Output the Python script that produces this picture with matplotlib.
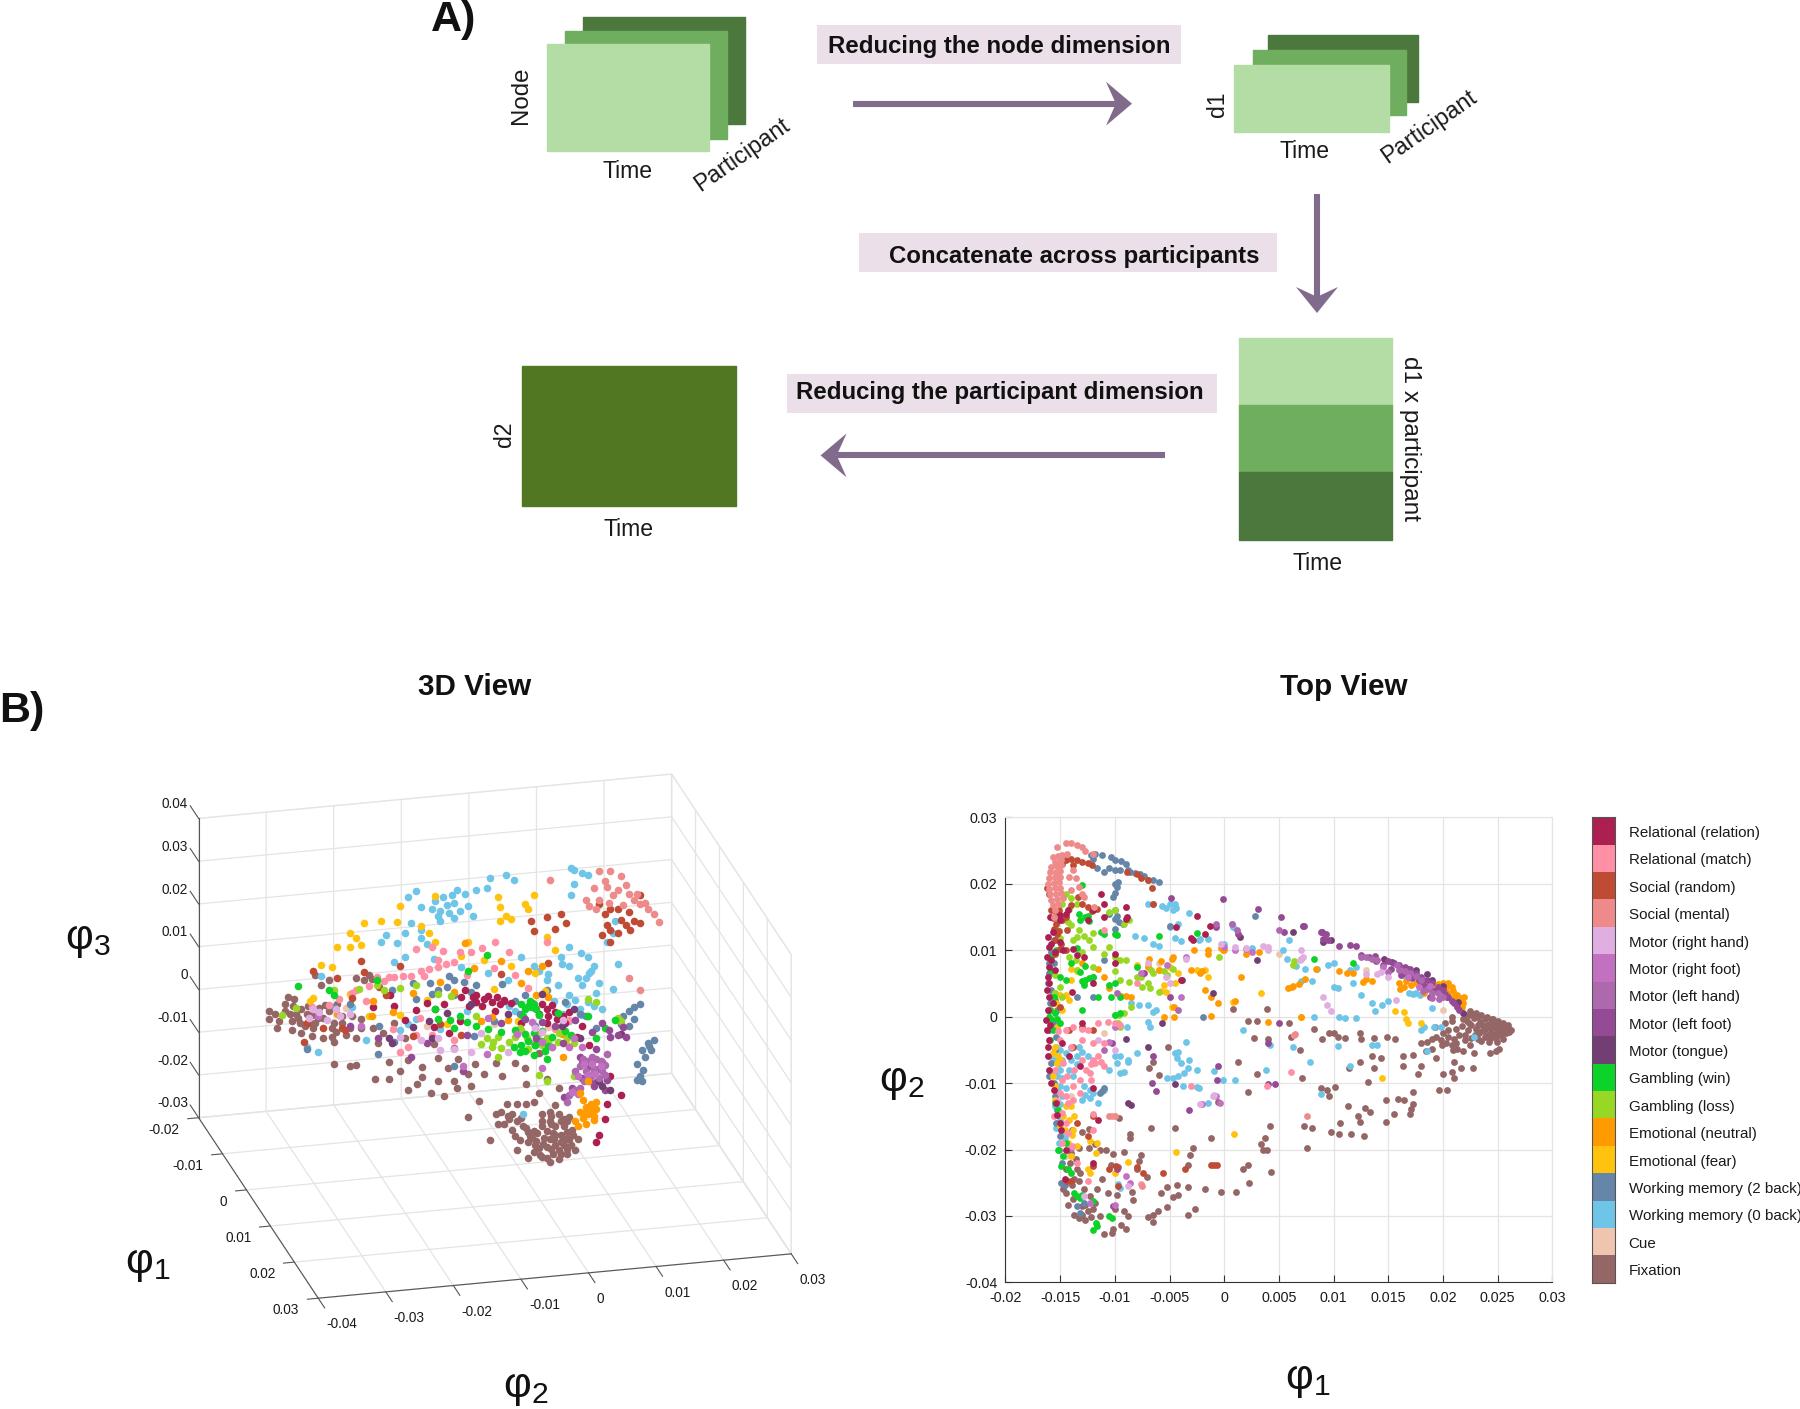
import numpy as np
import matplotlib
matplotlib.use('Agg')
import matplotlib.pyplot as plt
from matplotlib.colors import ListedColormap
from matplotlib.patches import Rectangle, Polygon
from mpl_toolkits.mplot3d import proj3d

plt.rcParams['font.family'] = ['Liberation Sans', 'DejaVu Sans']
plt.rcParams['mathtext.fontset'] = 'dejavusans'
plt.rcParams['mathtext.default'] = 'regular'

W, H = 1800, 1409
UNIT = 1e-3  # all point lists below are in units of 10^-3

categories = ['Relational (relation)', 'Relational (match)', 'Social (random)', 'Social (mental)',
              'Motor (right hand)', 'Motor (right foot)', 'Motor (left hand)', 'Motor (left foot)',
              'Motor (tongue)', 'Gambling (win)', 'Gambling (loss)', 'Emotional (neutral)',
              'Emotional (fear)', 'Working memory (2 back)', 'Working memory (0 back)', 'Cue', 'Fixation']
colors = ['#AB2050', '#FF8FA5', '#BF4B34', '#EF8A8A', '#E0AEE0', '#C270C2', '#AE68AE', '#944A94',
          '#733E73', '#0CD22A', '#98D825', '#FF9A00', '#FFC20E', '#6586A8', '#6FC5E8', '#EFC5B0', '#956666']
draw_order = ['Fixation', 'Cue', 'Working memory (0 back)', 'Working memory (2 back)', 'Emotional (fear)',
              'Emotional (neutral)', 'Gambling (loss)', 'Gambling (win)', 'Motor (tongue)', 'Motor (left foot)',
              'Motor (left hand)', 'Motor (right foot)', 'Motor (right hand)', 'Social (random)',
              'Relational (match)', 'Relational (relation)', 'Social (mental)']

# ---------- Top view: (phi1, phi2) ----------
top_fixation = [(22.5,.8),(23,.5),(23.5,.2),(24,0),(24.5,-.3),(25,-.6),(25.5,-1),(26,-1.8),(26.2,-2),(25.8,-2.5),(25.3,-2.8),(24.8,-3.2),(24.3,-3.4),(23.8,-3),(23.3,-2.5),(23,-1.8),(22.6,-1.2),(22.2,-.6),(22.8,-.2),(23.4,-.8),(24,-1.2),(24.6,-1.6),(25.2,-1.8),(24.4,-2.4),(23.8,-1.9),(23.2,-1.2),(24.8,-.9),(22.4,.2),(21.8,-.3),(25.6,-1.4),(25,-2.3),(24,-2.8),(23.5,-3.6),(24.9,-3.8),(25.5,-3.3),
 (22,.2),(22.6,.4),(23.2,-.1),(23.8,-.4),(24.4,-.8),(25,-1.2),(25.6,-1.9),(25.9,-1.2),(24.2,-1.7),(24.9,-2),(23.6,-2.2),(22.9,-2.8),(22.3,-2),(21.7,-1.4),(21.2,-1.9),(22,-2.7),(22.6,-3.2),(23.2,-3.3),(24.2,-3.8),(25,-2.8),(25.5,-2.4),(21.2,-3.9),(20.5,-2),(19.9,-4.2),(20.9,-5),(22.4,-.9),(23.6,-1.2),(24.6,-2.6),(26,-2.3),(24.6,-.4),
 (20,-2.5),(20.5,-3),(21,-3.4),(21.5,-2.8),(22,-3.5),(20.8,-4.3),(21.3,-4.8),(20.3,-4),(19.8,-3.5),(19.4,-3),(22.5,-4.2),(22.8,-5.4),(24.3,-5.5),(24.8,-5.2),(25.1,-4.8),(21.8,-5.2),(19.3,-1.5),(20.2,-1),(20.8,-.6),(19,-4.8),(18.5,-3.8),(20.8,0),
 (19,-3.3),(18,-3.9),(18.4,-5.1),(17.3,-5.7),(16.3,-6),(18,-7.5),(17.7,-8.7),(16.3,-7.5),(19.4,-6.3),(21,-6.9),(21.6,-7.8),(22.7,-7.8),(20.8,-8.4),(21,-9.3),(20,-8.7),(19.6,-11),(20.4,-11),(17.3,-11.3),(16.4,-12.5),(15.9,-12.4),(17.3,-13.1),(17.1,-13.9),(17,-14.6),(15.5,-14.7),(14.8,-12.5),(14.8,-15.8),(13.3,-14.3),(12.9,-13.7),(12.2,-14.9),(12.4,-15.8),(11.3,-13.4),(10.6,-16),(9.8,-17.3),(10.5,-17.6),(11.6,-17.6),(12.8,-17.9),(8.8,-10.7),(9.4,-11),(10.1,-10.6),(9.6,-11.9),
 (9.6,-2.4),(10,-2.4),(8.9,-3.3),(8.2,-1.8),(10.4,-3),(11,-3.2),(12.4,-2.4),(12.5,-3.3),(13.7,-3.2),(14.9,-3),(15.6,-3.4),(12.4,-6.9),(11.4,-7.8),(13.5,-6),(14.3,-6.3),(13.7,-7.8),(13.1,-9.9),
 (5.9,-1),(6.1,-3),(6.9,-5),(7.1,-9.3),(7.3,-16.4),(8,-16.7),(7.6,-19.8),(2.7,-3.2),(2.2,-.7),(3,-.7),(4,-3.4),(1.3,-6.8),(3,-8.7),(2.2,-11.3),(-.6,-12.8),(.8,1.2),(3.9,1.1),
 (-1.2,-18.2),(3.4,-19.1),(3.7,-18.2),(3.5,-20),(3.9,-20.1),(4.2,-16.4),(2.2,-22.4),(1.7,-22.9),(4.3,-23.4),(2.3,-25),(1.1,-26.4),(-.3,-26.4),(-1.8,-25.9),
 (-2.9,-19.7),(-3.1,-20.8),(-3.3,-22.3),(-3.3,-25.6),(-4.3,-25.4),(-5.2,-25.6),(-5.8,-26.5),(-4.7,-27.1),(-4.2,-26.8),(-5.2,-28.6),(-2.7,-28.9),(-3.3,-29.9),(-6.1,-29.3),(-6.5,-29.9),(-7,-30.2),(-6.5,-30.9),
 (-7.6,-20.8),(-7.8,-21.7),(-8,-22.9),(-7.1,-24.1),(-8.6,-17.7),(-8.6,-18.3),(-9.6,-15.2),(-6.7,-16.7),(-4.5,-16.8),(-6.5,-6.9),(-6.9,-7.8),(-6,-8.8),(-5.1,-4.5),(-9.2,-20.4),(-10.2,-20.7),(-10.8,-20.1),(-11.4,-20),(-11.8,-19.1),(-12.4,-19.7),(-10.4,-22.3),(-9.7,-22.6),
 (-11.2,-24.4),(-11.6,-25.9),(-10.6,-26.5),(-9.8,-26.8),(-8.4,-26.4),(-8.3,-27.6),(-10,-28.9),(-9.2,-29.3),(-8.8,-30),(-9.4,-31.4),(-9,-32),(-10.2,-32),(-11,-32.7),(-10.3,-32.5),(-11.4,-30),
 (-13.7,-29.9),(-13.3,-30.3),(-12.7,-30.6),(-12.2,-30.2),(-13,-29.8),(-14.3,-28.4),(-12.7,-28.3),(-12,-29),(-13.7,-24.4),(-13.5,-22.9),(-13.3,-24.7),(-13.9,-25.3),(-14.7,-26),(-14.5,-26.5),(-13.9,-17),(-13,-17.3),(-12.4,-16.9),(-13.3,-19.7),(-14.1,-22),
 (-14,-20.5),(-13.6,-21.5),(-13.2,-23.5),(-14.5,-23),(-12.8,-26),(-13,-28.5),(-13.8,-27.5),(-12.3,-27),(-12.5,-29.2),(-11.8,-28)]
top_social_mental = [(-15.7,24),(-15.2,24.2),(-14.8,24.3),(-14.4,24.5),(-14.9,23.5),(-15.5,23.3),(-15.8,22.5),(-15.3,22.6),(-14.9,22.8),(-15.9,21.7),(-15.4,21.8),(-15,21.9),(-16,20.9),(-15.5,21),(-15,21),(-16.1,20),(-15.6,20.1),(-15.1,20.2),(-16,19.2),(-15.5,19.3),(-15,19.4),(-15.9,18.4),(-15.4,18.5),(-14.9,18.6),(-15.8,17.6),(-15.3,17.7),(-15.7,16.8),(-15.2,16.9),(-14.7,17.9),(-15.5,16),(-15.6,15),(-15.3,25.5),(-14.5,26.1),(-14,26.1),(-13.5,25.9),(-13,25.6),(-12.7,24.9),(-12,24.5),(-13.6,20.8),(-13.3,19.5),(-13,18.5),(-12.8,18),(-11.9,16.5),(-13.8,22),(-14.2,21),(-14,19),(-10.5,-14.9),(-10,-14.9),(-7.5,-25.5),(6.5,-2.6),(7.6,-15)]
top_social_random = [(-14.5,23.5),(-14,23.7),(-13.5,23.5),(-13,23.2),(-12.5,23.1),(-12.1,22.8),(-14.8,23),(-13.8,22.8),(-16.2,19.4),(-16,18.4),(-15.7,14.8),(-15.4,14),(-15.6,13.2),(-15.3,12.4),(-15.5,11.5),(-15.1,12.9),(-14.8,14.5),(-14.4,13),(-13.4,18),(-13,17),(-12.5,16.5),(-12.1,15.9),(-11.6,16.2),(-14.9,11),(-14.5,10),(-14,16.8),(-8.9,21.8),(-8,21.5),(-7.6,20.8),(-7,20.6),(-6.6,19.4),(-6.5,17),(-15,1.5),(-14.2,-2),(-13.8,-4.5),(-13,-1.5),(-12,-2),(-13.5,-16),(-12,-15),(-12.5,-18),(-12,-22.5),(-10.5,-23),(-9.9,-22.5),(-8,-22.7),(-7.4,-23.5),(-5.6,-23.5),(-3.6,-23),(-1.2,-22.3),(-.7,-22.4),(-.9,-22.4),(-9.7,-25.5),(-14,-24.7),(-14.4,-24.8),(-15.8,16),(-15.4,15.4),(-15.1,16),(-14.5,15),(-15,10.2),(-15.5,9.5)]
top_relational = [(-16.1,12),(-16,10.5),(-16.2,9),(-16,7.5),(-16.1,6),(-16.2,4),(-16,3),(-16.1,1),(-16.3,-.5),(-16.2,-2),(-16,-3.5),(-15.8,8.5),(-15.5,7),(-15,15.3),(-14.5,15.5),(-15,14.5),(-14.3,16),(-11.3,18.5),(-11,16.9),(-9,16.5),(-8.9,15),(-9,14.7),(-15,11.3),(-14.7,10),(-13.8,10.2),(-12.5,14.5),(-10,9.5),(-2.5,15.2),(-1.3,13.7),(-1.8,12.5),(-3,11.8),(-2.9,11.5),(-4.4,13.5),(-11.5,-15.5),(-12,-22),(-14.6,-24.5),(-14.8,-4),(-13.2,-7.5),(-12,-10.8),(-13,-1),(-12,5),(-4,5.5),(-16.1,-6),(-16,-8),(-15.8,-10),(-15.4,-13),(-15,-16),
 (-15.9,15),(-15.7,12.8),(-15.8,11),(-15.5,9.7),(-16,5),(-15.7,2),(-15.9,-1.2),(-16.1,-4.5),(-15.6,-11),(-15.3,-14.8),(-14.9,-17),(-14.5,-20),(-14.2,-6),(-13.9,3.7),(-13.5,9.3),(-12.8,9),(-12,16),(-11,15),(-10,8)]
top_relational_match = [(-14.5,-2),(-13.8,-1.5),(-13,-1.8),(-12.5,-2),(-11.5,-1),(-10.6,-.8),(-10,-1),(-9.5,-1.2),(-15,-3.5),(-14,-4.5),(-13,-3.5),(-12,-4),(-11,-4),(-11.5,-6),(-12,-6.5),(-12.2,-7.2),(-11.3,-6.8),(-11,-7.5),(-12.6,-8),(-12.3,-8.5),(-13.2,-9.5),(-13.8,-10.5),(-13.2,-11.5),(-13.8,-12.5),(-14.3,-13),(-12.2,-9.5),(-11.8,-7),(-14.8,-14.5),(-14.5,-16),(-14.3,-17.5),(-13.9,-19.5),(-13.5,-22),(-12.5,-24.8),(-7.6,-25.2),(-12,-17),(-12,-14.6),(-15.5,-8),(-14.8,-9.5),(-15,-11.5),(-10.3,-14.9),(-3,-10.5),(3.9,-10.4),(6.4,-2.7),(6.1,-8.4),(-15.6,-15),(-11,13),(-8,5),(-15.2,-2.2),(-14.7,-7),(-14.4,-9),(-15.3,-12.7),(-14.8,-19),(-14.5,-12),(-13.7,-8),(-13,-6.5)]
top_motor_left_foot = [(15,8.3),(15.5,8),(16,7.7),(16.5,7.5),(17,7.2),(17.5,6.5),(18,6),(18.5,5.5),(19,5),(19.5,4.5),(20,4),(20.5,3),(21,2),(21.5,1),(18.2,4.8),(19,4),(16.6,6.6),(18,5.2),(12.5,9.3),(13.2,9),(13.8,9.1),(10.5,10.6),(11.5,10.8),(12,10.7),(9.5,11.5),(9,11.7),(9.3,12.4),(8.8,12.8),(7.3,13.7),(5.5,12.8),(5.2,15),(3.1,16.2),(-.1,17.7),(-4.9,17.8),(-.8,13.5),(1.3,12.5),(5,-1),(4,-4),(-10.3,-4),(-6.6,-10),(-6.2,-11.2),(-3.2,-14.1),(4,-10.2),(4.6,-10.1),(-.6,-7.4),(-.7,-9.5),(-9.8,-23),(-10.2,-28.5),(-6.5,-6),(-5,3),(-7.3,6.5),(16.2,6.2),(17.2,5.8),(17.8,5.5),(18.6,4.6),(19.4,3.8),(20.2,3.4),(20.8,2.4),(21.3,1.5),(14.5,7.8),(13.9,8.3),(16.9,6),(15.2,7.2),(18.8,3)]
top_motor_left_hand = [(12.5,9),(13,8.9),(13.5,8.7),(14,8.5),(16,7),(16.5,6.8),(17,6.5),(17.5,6.1),(18,5.5),(18.5,4.2),(19,3.5),(19.5,3.5),(20,3),(15.8,7.7),(15,6.7),(-.8,13.9),(.7,13.9),(1.2,13),(5,13),(-4.2,1),(-9.8,3.5),(-11,-5),(18.2,3.8),(19,2.8),(19.6,2.6)]
top_motor_right_foot = [(-4,3),(-10,-1.5),(-3.5,9),(0,10.5),(1,10),(2,10.2),(2.5,9.8),(-5.2,7.7),(-7.6,6.5),(-10.5,-3.8),(-.8,-12),(-.4,-13),(-2,-13.2),(-9,-24),(-8.6,-25),(-12.3,-28),(-10,-28.3),(-14,-19.8),(17.8,4.4),(18.8,4.6),(16.8,6),(14.5,7.4)]
top_motor_right_hand = [(13,6.4),(14,6.4),(15,6),(14.3,6.7),(9,3),(9.4,1.8),(9.8,.8),(7,10),(7.2,9),(6.9,8.5),(-.3,11),(1,10.5),(2,10.3),(3.5,10.6),(4,10.5),(-3.5,8.6),(-10,-5),(-.9,-11.8),(-2.2,-13.2),(-1,-12),(-8.8,-25.5),(-12.8,-27),(-5.3,6),(-5,5),(-11.5,-3.5),(15.7,2.5),(-7,8),(4,10)]
top_motor_tongue = [(14.6,8.7),(15.3,8.2),(16.8,7.1),(17.5,7),(18,5.7),(18.5,6.4),(19,5.5),(20,4.6),(20.4,3),(21.4,2.2),(21.8,.6),(8.9,12.7),(9,11.2),(9.8,11.6),(7.2,13.7),(6.3,12.7),(1.4,12),(3,8.5),(-1,3.5),(-3.9,5.5),(-5.7,-1),(-4.5,-10.2),(-8.8,-13),(-8.5,-13.3),(-7,-4.5),(-9,-3.3)]
top_wm0 = [(-7,17),(-6.5,17),(-5.7,16.7),(-5.3,16.3),(-5,16.9),(-4.7,16),(-4.5,17),(-4.4,16.3),(-3.2,15.6),(-4.2,14),(-5,13.5),(-2.3,11.6),(-2.2,11.7),(-1.5,11.7),(-8.2,12.1),(-7.3,11.8),(-6.5,11),(-6,10.7),(-4.5,11.8),(-4,11.4),(.7,14),(.8,13.5),(0,10.9),(2.5,10.3),(5.9,11.6),(5.4,10),(5.7,8.7),(6.6,7.6),(7.4,7.2),(7,5.4),(8,5.3),(8.5,7.1),(9.5,7.8),(10,8.1),(10,4.4),(10.4,4.3),(11.5,7),(12,7.5),(11.8,5),(12.5,3.3),(13.5,2),(14.4,1.7),(13.8,.8),(15,2.3),(11,-.2),(10.5,-.1),(12,-.2),(8.2,-.1),(16.6,6),(17.3,3.4),(17.5,3.6),(17.9,3.3),(16.9,3.6),(19,1.3),(19.8,-1.5),(19.2,-1.5),(18.3,-1.6),(18,-2),(22.8,-3),(18.5,-5.1),(14,-4.3),(13.5,-4.2),(10.4,-4.4),(7.8,-6.9),(11.5,-7.5),(6.3,-4.5),(4.2,-4.2),(1.7,-2),(3.8,-8),(-.9,-8.2),(1,-9.5),(-.1,-9.5),(-1.5,-13),(8.8,-11.6),(-2.5,-10.6),(-2.3,-10.8),(-3.3,-7.8),(-3.7,-8.5),(-4,-7),(-4.5,-5.5),(-4.2,-5.3),(-4.3,-6.2),(-3.5,-3.8),(-3.2,-6.5),(-2.5,-8),(-4.7,-9.3),(-4.2,-9),(-5.2,-9.3),(-3.8,-10.5),(-6.8,-1.6),(-8.9,-1.5),(-9.5,-6),(-10,-6),(-9.8,-7),(-8.8,-6.5),(-8.8,-6.8),(-10.5,-8),(-9.5,-8.5),(-9.2,-8.3),(-7,-.8),(-8,-5.5),(-8.5,2),(-7.8,1.7),(-7,1.8),(-6.2,1),(-6.5,.7),
 (-15.4,-4.5),(-15,-5),(-14.5,-5.5),(-14,-4.7),(-13.3,-4.6),(-13,-5.3),(-15.5,-6.5),(-15,-8),(-15.3,-9),(-14.8,-9.3),(-15,-10.5),(-13.8,-9),(-12.8,-10.5),(-12.3,-11),(-12,-11.5),(-12.7,-11.8),(-12.3,-12.3),(-13,-12.5),(-11.5,-13),(-11,-11),(-14.8,-17.5),(-15,-15.5),(-15.5,-13.5),(-9.7,-25.2),(-9.5,-25.8),
 (-15.8,-6),(-15.2,-7.2),(-14.8,-6.5),(-15.6,-8.5),(-15.3,-11),(-14.8,-12),(-15,-13.2),(-14.5,-10.8),(-14.2,-8),(-14,-6.5),(-13.5,-7.2),(-15.4,-16.7),(-15.1,-19),(-14.6,-18.3),(-13.5,-6),(-12.5,-6)]
top_wm2 = [(-12.2,24.3),(-11.8,24.5),(-12,23.7),(-11.2,24.4),(-10.4,24),(-10,23.6),(-9.4,23.4),(-9,22.9),(-9.5,22),(-8.8,22),(-8.6,21.8),(-8.2,21.6),(-7.7,21.5),(-7.3,21.2),(-7,20.6),(-6.5,20.6),(-6,20.2),(-11.6,22.3),(-11,21.8),(-10.5,22.3),(-10,22),(-9.7,20.2),(-10,20),(-10,18.6),(-10.2,18),(-9.8,19.5),(-15.5,15),(-10,16),(-10.5,15.5),(-9.8,15.2),(-10,14.7),(-9.3,14),(-9.6,14.2),(-10,13.2),(-15.6,11.5),(-15.8,9.8),(-16,8),(-15.7,6.5),(-16.1,5),(-15.7,3.5),(-15.9,2),(-15.3,1),(-16,-2),(-15.4,-3),(-16,-9),(-15.5,-12),(-15.4,-16),(-15,-18),(-14.9,-25),(-14.6,-25.4),(-13.5,-28.5),(-12.8,-28),(-13.2,-29.5),(-11,-10.8),(-11.2,-11.2),(-11.4,-11.5),(2.8,15.1),(-5,13.6),(-1.9,0),(-12,3),(-12,6),(-11,8.5),(-13.5,3),(-16,6.5),(-15.6,8),(-15.8,4),(-15.5,2.5),(-16,.8),(-15.7,-1),(-15.5,-5),(-15.8,-7),(-15.6,-10),(-15.3,-14),(-15.1,-20),(-14.8,-22)]
top_gambling_win = [(-13,19.8),(-13.3,15.5),(-12.5,15.1),(-12.4,14.4),(-12.7,15),(-13.2,14.6),(-11.3,12.8),(-11,12.5),(-10,12.4),(-9.8,12.3),(-6,12.2),(-2.5,12.6),(-15.8,9),(-15.4,10),(-15.8,7),(-15,6),(-14.5,5.5),(-13,5.3),(-12.7,5.5),(-12.8,4.8),(-12.4,5.8),(-12,6),(-10.5,4.7),(-10,5),(-9.5,3),(-11.5,3),(-13,1),(-10,.3),(-9.5,.5),(-16,0),(-15.8,-.3),(-15.5,.5),(-15.7,-2),(-15,-1),(-15.5,-13),(-15.2,-14),(-14.5,-19),(-14.7,-21),(-14.3,-23),(-14,-23.5),(-13.5,-27),(-13.2,-27.3),(-13,-26.8),(-13.7,-26.5),(-12,-32.1),(-11.7,-31),(-11.6,-31.5),(-10.5,-30),(-10.3,-30.3),(8.2,8.7),(11.8,8.1),(-10.4,3),(-8,7.5),(-12,-27.7),(-15.6,3),(-15.9,1),(-15.3,-.3),(-15.9,-3.5),(-14,8),(-13.5,10.4),(-13.2,6.7),(-12.7,7.6),(-15.2,-20),(-14.9,-22.5)]
top_gambling_loss = [(-14.5,18.5),(-14,17.8),(-14.8,17),(-13.5,17),(-14.2,16.2),(-14.3,14.3),(-14,13.8),(-13.3,13),(-13.5,12),(-12.8,12.2),(-12.4,11.5),(-12,10.5),(-11,9.5),(-10.5,10.5),(-10,9),(-9.5,8.5),(-9,8.5),(-12,12.6),(-10.5,15.8),(-10,16),(-8.7,14.5),(-9.2,14),(-14.2,9),(-13.6,8.5),(-13.5,7),(-12,7.5),(-10,6.8),(-9.5,5.5),(-8.7,5.2),(-8,6),(-7.5,4.5),(-7,5),(-6.8,4.3),(-6.5,6.5),(-6.7,7),(-5.5,6.8),(-5.2,6.2),(-4.7,7.2),(-8.5,1.5),(-10,.3),(-9.6,.2),(-9.2,.5),(-9.5,-1.5),(-9.7,-1),(-7.6,6),(-.5,9),(6.4,8.3),(6.3,7.8),(-6,3.7),(-15.5,3.5),(-14.8,3),(-15.3,13),(-15,11.8),(-15.5,6.3),(-13,9.8),(-13.8,11.5),(-15,4.5)]
top_emotional_neutral = [(13,5.7),(13.5,5.4),(12.7,5.2),(16,5),(16.6,5.3),(17.1,4.8),(16.4,4.5),(17.5,5),(19,4.8),(19.5,4.9),(20,5),(20.5,5),(20.8,4.5),(21.3,3.3),(21.6,2.8),(21.9,3),(21.8,2),(21.7,1.5),(21,3),(20.5,3.5),(18.3,3.6),(10.5,6.8),(11.2,6.5),(11.8,6.5),(6.2,4.5),(5.8,4.3),(6.3,4.6),(6.8,4.9),(7.4,5.7),(7,8.7),(8.4,7.2),(3.2,9.7),(2,9.5),(0,10.1),(-.3,10.3),(-.1,10),(-1.5,10),(-2.8,10),(-1.5,9.5),(-4.7,9),(-4.8,8.7),(-5.8,8.4),(-6.9,8.7),(-7,7.5),(-6,7),(-3,7),(-2.2,6.5),(-2,6.8),(-1.8,4),(-1.2,3),(-4.6,1.4),(-4.6,0),(-5.5,0),(-1.2,.1),(-.6,2.1),(1,2.3),(1.5,6),(7,-.1),(4,-.8),(-10.5,4.3),(-9.4,3.1),(-9,3.1),(-8.5,3),(-11,6),(-11.5,7.2),(-12.8,5.1),(-13,8),(19.8,4.2),(20.3,4.4),(20.9,3.8),(21.4,2.3),(18.4,4.2),(16.1,4.2)]
top_emotional_fear = [(-15.5,3.5),(-15,3.3),(-14.5,3.2),(-14,5.5),(-13.5,7),(-14,7.2),(-13.5,6.8),(-14.2,2.5),(-15.5,-4.5),(-15.7,-5.5),(-15.2,-6),(-15.3,-7),(-15,-6.5),(-15.5,-12.5),(-14.5,-13.5),(-14,-13.5),(-14.7,-15),(-14.2,-15.5),(-13.8,-17),(-13.9,-17.8),(-14.3,-19),(-13.5,-19.5),(-12.3,-18.7),(-11.6,-19),(-12.5,-23),(-12.3,-23.5),(-8.8,-21.9),(-10,-23.5),(-11.7,-20.5),(-8,7.8),(-7,7.7),(-6,7),(-5,7.5),(-4.2,6.5),(-5.5,4.8),(-4.5,5),(-5.8,3.8),(-5.3,3.7),(-4.8,1.4),(-2.5,7),(-2.3,6.8),(-1.8,7),(-1.5,6),(.8,2.2),(.9,-17.6),(-4.4,-20.4),(3.4,3.5),(7,-.1),(16.4,.7),(16.6,-.3),(16.8,-1),(18,-1),(14.4,-9.2),(15.6,.9),(-15.7,-9),(-15.5,-10.5),(-15.3,-1.5),(-15.8,1),(-15.4,2),(-14.8,1),(-15,-16.5),(-14.6,-17),(-14,-21),(-13.7,-15)]
top_cue = [(-11,-2.5),(-6,8),(13,7),(-14,-12),(5,9.5),(-14.5,-21),(20,1)]

top_layers = {'Fixation': top_fixation, 'Cue': top_cue, 'Working memory (0 back)': top_wm0,
              'Working memory (2 back)': top_wm2, 'Emotional (fear)': top_emotional_fear,
              'Emotional (neutral)': top_emotional_neutral, 'Gambling (loss)': top_gambling_loss,
              'Gambling (win)': top_gambling_win, 'Motor (tongue)': top_motor_tongue,
              'Motor (left foot)': top_motor_left_foot, 'Motor (left hand)': top_motor_left_hand,
              'Motor (right foot)': top_motor_right_foot, 'Motor (right hand)': top_motor_right_hand,
              'Social (random)': top_social_random, 'Relational (match)': top_relational_match,
              'Relational (relation)': top_relational, 'Social (mental)': top_social_mental}

# ---------- 3D view: (phi2, phi3), grouped by phi1 level ----------
PHI1_FAR, PHI1_MID, PHI1_NEAR = -15.0, 5.0, 24.0

v3_fixation_far = [(-31.4,-2.2),(-31.4,-3.9),(-29.8,-4.6),(-30.2,-6.3),(-29,-.9),(-28.6,.7),(-28.2,-3.2),(-27.4,-3.3),(-26.6,-2.3),(-25.8,-3.6),(-27,-4.5),(-25.3,-5.9),(-24.1,-4.9),(-23.3,-5),(-22.5,-3.5),(-21.7,-6.4),(-24.9,-7.1),(-26.6,-8),(-23.3,-9.5),(-21.7,-10.9),(-20.5,-4.9),(-21.3,-2),(-23.7,2.8),(-22.5,3.8),(-24.5,5.2),(-19.3,-7.8),(-17.7,-5.9),(-16.1,3.2),(-18.5,3.7),(-16.5,4.1),(-17.3,3),(-17.7,-8.1),(-28,-5),(-25,-4),(-24,-2.5),(-22,-7.5),(-26,-6.5),(-20,-9.5),(-30.4,-3),(-29,-2.5),(-27.8,-1.5),(-26.8,-5.6),(-25.6,-1.8),(-24.5,-6),(-23,-2),(-21.5,-8.5),(-20.5,-6.5),(-19,-5),(-28,-7),(-25,-9),(-22,-9.6),(-27.6,.2)]
v3_fixation_mid = [(-28.8,2.1),(-26.4,1.3),(-25.5,1.2),(-22.7,-2.3),(-20.7,1.3),(-20.7,-2.6),(-17.9,1.4),(-17.9,-5.8),(-15.8,-.7),(-15.8,-2.9),(-13.4,1.2),(-11,3.1),(-13.4,-4.3),(-11,-4.7),(-12.6,-7.8),(-10.6,-6.4),(-9,-3.3),(-8.6,-6.1),(-7.4,-9.7),(-9,-13.4),(-6.6,-3.7),(-4.9,-1.2),(-18.3,6.6),(-19.9,10.2),(-23.1,9.5),(-21.5,8.2),(-22.3,6),(-25.5,7.7),(-2.1,-1.8),(-.5,-3.2),(1.5,.2),(-14.5,-7),(-16.5,-4.5),(-19,-1),(-12,-1.5),(-8,-1),(-4,-4.5),(-14,4.5),(-10.5,.5)]
v3_fixation_near = [(-7.2,-.2),(-6,-.9),(-4.8,0),(-3.6,1),(-2.3,2.4),(-1.5,-.5),(-.3,-1.6),(.5,-3.9),(.1,-6.3),(-1.1,-7),(-2.3,-8.2),(-3.6,-8.5),(-4.8,-7.3),(-6,-5.9),(-6.8,-3.4),(-5.6,-3.3),(-4.4,-2.9),(-3.2,-1.9),(-1.9,-2.6),(-.7,-3.7),(-2.8,-4.7),(-4,-5.1),(-5.2,-5),(-1.5,-4.9),(-3.2,-6.9),(-2.3,-5.9),(-2.8,-.3),(-4,-1.2),(-1.5,1.2),(-.7,1.6),(-2.8,4.7),(-3.6,3.1),(-4.8,2.8),(-11.6,3.8),(-10.8,4.2),(-10,5.9),(-9.2,3.5),(-8.4,1.7),(-7.6,.5),(-10.4,1.3),(-8,-2.7),(-8.4,-5),(-6.8,-7.3),(-11.2,1.4),(-9.2,-.4),(-7.2,5.4),(-6,5.8),(-8.4,5.7),(-12.4,-2.2),(-5.2,7.8),(-4,10.8),(-2.3,8.5),(-7.2,10.2),(-9.6,2.3),(-5,-6.8),(-3,-3.3),(-1,-2),(-6.2,-2.5),(-4,-7.5),(-2,-7),(-.5,-5.2),(-3.5,.2),(-6.5,-2),(-5.5,-1.6),(-4.6,-4.2),(-3.6,-3.3),(-2.8,-2.4),(-1.2,-3.6),(-.2,-2.8),(-2,-4.2),(-3.4,-5.6),(-1,-6),(-5.8,-4.4),(-4.8,1.2),(-3.5,2.2),(-1,.5),(-2,.7),(-6.8,-1.2),(-7.8,2.2),(-9.8,3),(-8.8,-1.8)]
v3_social_mental = [(17.5,23.4),(19.1,23.2),(20.7,21.8),(21.5,19.5),(20.3,18.6),(18.7,19.4),(16.7,19.6),(15.5,17),(17.5,16.7),(19.5,17.6),(21.9,17.3),(23.5,14.7),(24.7,13.4),(25.6,12.2),(26.4,10.1),(23.1,17.1),(21.1,15),(17.1,14.6),(21.9,-2.3),(23.5,-5.4),(10.2,22.3),(18.4,21),(16,15.5),(19,15.6),(22.6,15.8),(24.3,15)]
v3_social_random = [(17.9,8.3),(19.1,9.3),(20.3,8.5),(21.5,10.1),(22.7,11),(23.5,10.3),(21.9,13.1),(23.5,17),(17.5,15.6),(19.1,14.3),(20.3,14.1),(18.3,13.3),(11.8,14.2),(12.6,11.9),(9.8,13.9),(7.4,13.2),(11,10.9),(7.8,10.9),(19.1,6.5),(-25.8,-5.8),(-23.3,-7.2),(-20.5,-7.6),(-20.1,-8.2),(-17.7,7.5),(-24.9,6.3),(-21.3,4.1),(-17.3,5),(-26.2,-10.2),(-12,5.5),(20.8,11.5),(22,9),(18.7,10.6),(-6,-9),(-14,-1),(-3,-12),(3,1.5),(-10,-11),(10,3),(-19,-1),(-15,1)]
v3_wm0 = [(-10.8,21.5),(-9.6,22.7),(-6.8,19.9),(-5.6,20.8),(-4.3,21.1),(-3.5,22.1),(-2.3,21),(-7.2,18.2),(-6,17.5),(-4.7,16.8),(-3.1,17),(-1.9,18),(-1.1,15.6),(-6.4,16.4),(-3.9,15.5),(-.7,21.7),(.9,21.8),(3.7,24.4),(4.9,23.1),(1.3,24.1),(-8.8,18.9),(-10.4,15.3),(-8.8,13.4),(-11.2,13.2),(-14,13),(-14.8,11.5),(-12.4,11.1),(-8.8,11.7),(-8,10),(-12.8,6.7),(-11.2,7.6),(13.4,24.6),(13.8,24.3),(15,23.2),(15.9,22.6),(13.8,21),(13.4,18.3),(19.9,11.4),(19.5,8.7),(18.7,6.5),(13,6.2),(11.8,4.2),(13,1.8),(15.9,3.6),(16.3,.2),(15.5,-1.3),(15,-2.9),(16.7,1.3),(20.3,1.3),(17.5,-2.7),(19.5,-4.5),(8.6,1.3),(9.8,-1),(11.4,-2.4),(7.8,2.6),(13,-4.9),(15.9,-6.9),(14.6,-8.5),(12.2,-9.2),(-23.7,5),(-25.8,-11.4),(-24.1,-12.7),(-9.6,-7.2),(-10.8,-8.2),(4.1,-6.1),(-5,18.8),(-4,19),(-6,15.2),(14.8,4.6),(16,-.3),(14.4,-1.2),(12,2.5),(10,.4),(14,-6.2),(12.8,-7),(10.8,-6.1),(16.8,-8),(15,-9.8),(-7,6.5),(-3,4),(1,2),(4,0),(6,5),(-12,-9.5),(-6,-10),(-2,-6.5),(5,-7.5),(17,-5),(18,-9),(13,-11),(-17,-11),(-19,-3)]
v3_wm0_mid = [(-.9,-13.8)]
v3_wm2 = [(22.7,-9.1),(23.5,-8.6),(21.9,-10.1),(21.1,-11.1),(22.7,-11.9),(20.7,-12.8),(25.6,-17.3),(24.7,-17.8),(25.2,-19.5),(23.9,-19.3),(24.3,-21),(23.1,-22.5),(23.5,-25.4),(23.1,-26.4),(23.9,-26.6),(21.9,-13.5),(-4.7,2.2),(-3.9,1),(-6.4,-.8),(-7.2,-1.8),(-3.9,-2.4),(-.7,-.6),(-9.6,-2.5),(-13.2,.2),(-25.8,-11.9),(-15.2,-14.6),(-21.7,-2.7),(5.8,-8.3),(9.8,-3.3),(14.6,-9.6),(17.1,-13.3),(-3.9,-19.1),(-12.8,-12.2),(-19.3,-2.3),(24.9,-18.6),(24,-24),(-2.5,.5),(-1.5,-2),(-7.5,.8),(-5,-.5),(5,-5.2),(3.2,-.8),(6.5,-4),(12.4,-6.5),(15.5,-10.2),(-10,1.2),(2,-9.5),(-1,-12.5),(8,-11.5),(-15,-8)]
v3_relational_far = [(-.7,-4.5),(.5,-4.1),(1.7,-4.9),(2.9,-5.6),(-.7,-2.8),(2.1,-7),(9.8,-7.7),(8.6,-8.7),(9.8,-11),(9,-6.5),(-2.3,-1.5),(-3.1,-8.6),(-9.6,-5),(-12.8,-3.8),(12.2,-9.8),(14.2,-15),(-4.7,-11.2),(-6.8,-5.3),(-11.2,-7.1),(3.5,-5),(-1.8,-5.4),(11,-8.5),(-1.2,-3.2),(1,-3.5),(2.4,-3.8),(.2,-5.6),(3.4,-4.6),(4.5,-5.5),(8,-7.2),(10.5,-7),(10,-9.3),(7.5,-6),(11.2,-10.3),(-5.5,-4.2),(-8,-3.8),(-3,-3),(13,-9),(15,-12.5),(-13.5,-1),(-16,-3.5),(-7,-9.5),(6,-10.5),(12.5,-11.5),(16,-17)]
v3_relational_near = [(4.9,3.6),(4.5,.3),(5.3,10.2),(3.3,-4.9),(7,5.5),(3.7,-3.3)]
v3_relational_match = [(-12.8,3.2),(-10.4,2.9),(-8.8,3.8),(-6.4,4.6),(-4,5.4),(-1.5,7.2),(.1,8),(-9.6,9.1),(-7.2,9.3),(-5.6,8),(-3.1,7.6),(2.1,9),(4.1,6.5),(-6.4,6.2),(-8.4,2.6),(-15.3,3.5),(-13.6,3.2),(-18.5,.8),(-22.5,-1.9),(-12,-14.5),(-10.8,-13.6),(-9.6,-10.9),(-7.2,-11.3),(11.4,-9.3),(13,-10.7),(9.8,-14.5),(7.8,-15.3),(7,-2.5),(9.8,7.9),(-11.5,3.1),(-7.6,4.2),(-5.2,5),(-25,-2),(-21,-.8),(-19,.2),(-16.5,1.5),(-14.3,2.3),(-2,2),(2,3),(5,1),(-9,-7),(-4,-13),(-13,-9),(-17,-2),(11,-12.5),(6,-12)]
v3_emotional_fear = [(-23.7,7.6),(-22.1,6.9),(-19.3,14.4),(-18.5,13.1),(-17.7,11.4),(-19.3,11),(-21.3,11.3),(-17.3,16.4),(-14.8,16.5),(-12.4,15.9),(-12,19.5),(-6.8,21.2),(-8.8,14.5),(-7.6,12.7),(-6.8,10.3),(-1.9,9.6),(2.5,19.5),(2.9,17.2),(3.7,14.9),(4.5,14.2),(7,16.1),(7.8,19.3),(2.9,13.9),(6.6,17.3),(11,6),(-24.9,0),(-25.3,-.6),(-19.3,0),(-16.5,-5.5),(12.6,-16),(9.8,9),(-3,6.5),(.5,5),(4.5,3),(8,1),(-8,-3),(-12,-6),(-5,-9),(2,-2),(5.5,-10),(9.5,-3.5)]
v3_emotional_neutral_near = [(.9,2.5),(1.7,3.5),(2.5,4),(3.3,2.7),(2.1,1.8),(2.9,1.1),(1.3,.9),(.5,-.8),(3.3,4.3),(1.7,-.4),(2.1,9.6),(.9,6.9),(1.3,5.2),(2.5,2.3),(.1,.4),(2.2,3),(1.4,2),(3,.2)]
v3_emotional_neutral_far = [(9,2.4),(7,1.5),(-2.3,9.6),(-21.3,-4.3),(-16.1,-5.6),(1.7,-8.5),(-3.9,-1.8),(12.2,-19.3),(8.2,-4.2),(-10,-1),(-6,1),(-1,3.5),(3,4.5),(6,-1),(10,-5),(-13,-5),(-16,-2),(0,-9),(4,-9.5),(12,-14)]
v3_motor_left_hand = [(.9,13.1),(2.1,14.1),(3.3,14.4),(4.5,13),(1.7,12),(2.9,12.2),(4.1,11.5),(2.5,10.6),(3.7,9.9),(1.3,14.8),(4.9,15.3),(.1,12.1),(-.7,6.6),(.1,7.6),(-1.1,5),(.9,8.1),(2.7,15),(4,14),(3,11.6),(4.5,10.6),(1.5,9.6)]
v3_motor_right_foot = [(1.5,13.5),(2.7,13.4),(3.9,12.7),(2.1,11),(3.1,11),(.5,11),(-.3,7.2),(.5,6.6)]
v3_motor_right_foot_far = [(-2.7,-19.3),(9,-21.5),(13.8,-15),(9,-15.4),(10.6,-16.8),(.9,-17),(-17.7,-7.6),(-24.1,-4.4),(1,-8.5),(5.3,-13),(7.5,-10.5),(13,-17),(15,-17.5)]
v3_motor_left_foot_near = [(.9,15.3),(3.3,16.7),(5.3,19.3),(6.5,19.7),(7.7,19),(4.1,13.7),(4.9,9.2),(4.5,7),(2.9,8.3),(-.3,8.2),(-1.5,6.2),(1.2,13.8),(2.4,13),(3.6,12),(2.2,9.4),(3.2,9),(1.1,10.4)]
v3_motor_left_foot_far = [(12.2,-16),(8.2,-14.2),(-2.7,-20.4),(-10.4,-15.9),(-15.2,-10.7),(-19.3,-7.3),(9,-10.7),(17.9,-12.3),(-2,-12),(3,-10),(6.5,-9.6),(11,-12),(14,-11),(16.5,-14),(19,-14),(21,-13.5),(-8,-13)]
v3_motor_tongue_near = [(3.7,9.3),(5.3,6.9),(4.1,8.1)]
v3_motor_tongue_far = [(-7.2,-12),(-13.6,-11),(-13.2,-12.2),(-1.5,-5),(-7.6,-7.9),(13.8,-8.4),(14.6,-15.2),(20.7,-15.1),(-10,-9),(-5,-6.5),(4,-8),(9,-4),(12,-12)]
v3_motor_right_hand = [(-20.9,-4.8),(-6.4,-12.1),(-6,-15),(-8.8,-12.2),(-24.9,-2.6),(12.2,-10.6),(-19.3,-4.5),(9,-13.1),(-1.5,-16.1),(-24,-3.4),(-22.8,-5.4),(-21.5,-3),(-25.5,-4.5),(-4,-15),(0,-12),(4,-17),(8,-12),(-12,-11)]
v3_gambling_win = [(-27,3.1),(-22.5,1.5),(-21.7,.3),(-15.3,2.7),(-6.8,-5.3),(-6.4,-7.6),(-3.1,-7.5),(-3.9,-10.2),(-.7,-10.1),(-1.9,3),(.9,6.1),(7,-6.6),(6.6,-7.2),(7.8,-6.2),(8.6,-9),(7,-14.9),(7.8,-13),(6.6,-17),(9.8,-19.5),(4.9,-16),(5.8,-17.3),(15.9,-10.3),(18.3,-13.5),(19.9,-11.8),(17.1,-15.5),(13.4,-14.4),(10.6,-14.5),(9,-12.7),(7.8,-18.1),(11.4,-8.8),(7.4,-7),(8,-16),(6,-6),(7.2,-5.5),(8.2,-7.5),(6.2,-8.8),(8.9,-15),(6.5,-13.2),(8,-15.8),(9.5,-17.5),(6,-15.5),(5,-12),(10,-16.5),(12.5,-13.2),(-4.5,-8.2),(-2,-9),(1,-11),(3,-12)]
v3_gambling_loss = [(-29.4,-3.4),(-27.4,-1.9),(-21.7,1.4),(-15.3,1.6),(-14.4,.4),(-9.6,.7),(-6.4,-1.8),(.9,-13.1),(2.5,-13.3),(4.1,-14.7),(9.8,-14.5),(10.6,-16.8),(11.4,-15.8),(15.9,-6.4),(17.1,-7.1),(20.3,-11.5),(20.7,-12.1),(1.7,-15.5),(2.5,-17.8),(8.6,-23),(9.8,-24.5),(13.8,-24),(-.7,-7.8),(5.8,-11.6),(13.8,-16.2),(10,-15.5),(5,-13.5),(6.8,-14),(8.5,-13.4),(9,-16),(7,-16.6),(11.5,-13.5),(12.8,-15),(0,-14.5),(1.8,-14.2),(3,-15.8),(-18,1),(-12,.5),(-4.4,-2.6)]
v3_cue = [(-20,-3),(2,-10),(-8,-9),(10,-12)]

layers_3d = [('Fixation', v3_fixation_far, PHI1_FAR), ('Fixation', v3_fixation_mid, PHI1_MID),
             ('Fixation', v3_fixation_near, PHI1_NEAR), ('Cue', v3_cue, PHI1_FAR),
             ('Working memory (0 back)', v3_wm0, PHI1_FAR), ('Working memory (0 back)', v3_wm0_mid, PHI1_MID),
             ('Working memory (2 back)', v3_wm2, PHI1_FAR), ('Emotional (fear)', v3_emotional_fear, PHI1_FAR),
             ('Relational (match)', v3_relational_match, PHI1_FAR), ('Relational (relation)', v3_relational_far, PHI1_FAR),
             ('Social (random)', v3_social_random, PHI1_FAR), ('Social (mental)', v3_social_mental, PHI1_FAR),
             ('Emotional (neutral)', v3_emotional_neutral_far, PHI1_FAR),
             ('Gambling (loss)', v3_gambling_loss, PHI1_FAR), ('Gambling (win)', v3_gambling_win, PHI1_FAR),
             ('Motor (tongue)', v3_motor_tongue_far, PHI1_FAR), ('Motor (left foot)', v3_motor_left_foot_far, PHI1_FAR),
             ('Motor (right foot)', v3_motor_right_foot_far, PHI1_FAR), ('Motor (right hand)', v3_motor_right_hand, PHI1_FAR),
             ('Relational (relation)', v3_relational_near, PHI1_NEAR),
             ('Motor (left foot)', v3_motor_left_foot_near, PHI1_NEAR), ('Motor (tongue)', v3_motor_tongue_near, PHI1_NEAR),
             ('Motor (left hand)', v3_motor_left_hand, PHI1_NEAR), ('Motor (right foot)', v3_motor_right_foot, PHI1_NEAR),
             ('Emotional (neutral)', v3_emotional_neutral_near, PHI1_NEAR)]

phi1_ticks_top = [-0.02, -0.015, -0.01, -0.005, 0, 0.005, 0.01, 0.015, 0.02, 0.025, 0.03]
phi1_labels_top = ['-0.02', '-0.015', '-0.01', '-0.005', '0', '0.005', '0.01', '0.015', '0.02', '0.025', '0.03']
phi2_ticks_top = [-0.04, -0.03, -0.02, -0.01, 0, 0.01, 0.02, 0.03]
phi2_labels_top = ['-0.04', '-0.03', '-0.02', '-0.01', '0', '0.01', '0.02', '0.03']
phi1_ticks_3d = [-0.02, -0.01, 0, 0.01, 0.02, 0.03]
phi1_labels_3d = ['-0.02', '-0.01', '0', '0.01', '0.02', '0.03']
phi2_ticks_3d = [-0.04, -0.03, -0.02, -0.01, 0, 0.01, 0.02, 0.03]
phi2_labels_3d = ['-0.04', '-0.03', '-0.02', '-0.01', '0', '0.01', '0.02', '0.03']
phi3_ticks_3d = [-0.03, -0.02, -0.01, 0, 0.01, 0.02, 0.03, 0.04]
phi3_labels_3d = ['-0.03', '-0.02', '-0.01', '0', '0.01', '0.02', '0.03', '0.04']

color_of = dict(zip(categories, colors))
TXT = '#1a1a1a'
GRID = '#e4e4e4'
AXC = '#555555'

fig = plt.figure(figsize=(W / 100, H / 100), dpi=100, facecolor='white')


def rect_px(x0, y0, x1, y1):
    return [x0 / W, 1 - y1 / H, (x1 - x0) / W, (y1 - y0) / H]


# ---------- Diagram canvas (pixel coordinates, y downward) ----------
bg = fig.add_axes([0, 0, 1, 1])
bg.set_xlim(0, W)
bg.set_ylim(H, 0)
bg.axis('off')

LIGHT, MID, DARK, OLIVE = '#B4DDA6', '#6FAE5E', '#4C773D', '#527722'
PURPLE, TAG = '#816B8C', '#EBE0EA'
diagram_boxes = [(582.7, 16.5, 744.8, 124.4, DARK), (565.2, 31.4, 727.3, 139.3, MID), (547, 43.6, 709, 151.5, LIGHT),
                 (1268, 34.8, 1418, 102.2, DARK), (1252.7, 49.8, 1406.3, 115.2, MID), (1234.4, 64.7, 1388.8, 132, LIGHT),
                 (1238.7, 338, 1392.3, 404.5, LIGHT), (1238.7, 404.5, 1392.3, 472, MID), (1238.7, 472, 1392.3, 539.6, DARK),
                 (522.4, 365.5, 735.7, 506.3, OLIVE)]
for x0, y0, x1, y1, c in diagram_boxes:
    bg.add_patch(Rectangle((x0, y0), x1 - x0, y1 - y0, fc=c, ec=c, lw=1))

tag_boxes = [(817, 25.3, 1181, 64.3, 'Reducing the node dimension', 999.5, 46),
             (859, 233, 1277, 272, 'Concatenate across participants', 1074, 256),
             (787, 374, 1217, 413, 'Reducing the participant dimension', 999.5, 392)]
for x0, y0, x1, y1, s, cx, cy in tag_boxes:
    bg.add_patch(Rectangle((x0, y0), x1 - x0, y1 - y0, fc=TAG, ec='none'))
    bg.text(cx, cy, s, ha='center', va='center', fontsize=17.3, fontweight='bold', color='#111111')


def arrow(x0, y0, x1, y1, back, half):
    d = np.array([x1 - x0, y1 - y0], float)
    L = np.hypot(*d)
    d /= L
    n = np.array([-d[1], d[0]])
    tip = np.array([x1, y1], float)
    neck = tip - d * (back * 0.62)
    bar = tip - d * back
    bg.plot([x0, neck[0]], [y0, neck[1]], color=PURPLE, lw=4.4, solid_capstyle='butt')
    bg.add_patch(Polygon([tip, bar + n * half, neck, bar - n * half], closed=True, fc=PURPLE, ec='none'))


arrow(853, 103.7, 1132, 103.7, 26, 22)
arrow(1317, 193.6, 1317, 313, 26, 21)
arrow(1165, 455.4, 820.6, 455.4, 26, 22)

plain = [(521, 95, 'Node', 90, 17.3), (627.6, 171, 'Time', 0, 16.6), (742, 155, 'Participant', 35, 16.8),
         (1217.5, 104, 'd1', 90, 16.6), (1305, 152, 'Time', 0, 16.6), (1429, 126.5, 'Participant', 35, 16.8),
         (1410, 439, 'd1 x participant', 270, 17.6), (1318, 563, 'Time', 0, 16.6),
         (505, 434, 'd2', 90, 16.6), (629, 529, 'Time', 0, 16.6)]
for x, y, s, rot, fs in plain:
    bg.text(x, y, s, ha='center', va='center', rotation=rot, rotation_mode='anchor', fontsize=fs, color=TXT)

bg.text(476, 31, 'A)', ha='right', va='baseline', fontsize=31, fontweight='bold', color='#111111')
bg.text(44, 722, 'B)', ha='right', va='baseline', fontsize=31, fontweight='bold', color='#111111')
bg.text(475, 687, '3D View', ha='center', va='center', fontsize=21.3, fontweight='bold', color='#111111')
bg.text(1344, 687, 'Top View', ha='center', va='center', fontsize=21.3, fontweight='bold', color='#111111')
for x, y, s in [(88, 940, r'$\varphi_{3}$'), (148, 1264, r'$\varphi_{1}$'), (526, 1388, r'$\varphi_{2}$'),
                (902, 1082, r'$\varphi_{2}$'), (1308, 1380, r'$\varphi_{1}$')]:
    bg.text(x, y, s, ha='center', va='center', fontsize=31, color='#111111')

# ---------- Top view ----------
ax = fig.add_axes(rect_px(1005.5, 817.3, 1552.4, 1282.4))
for name in draw_order:
    pts = np.array(top_layers[name]) * UNIT
    ax.scatter(pts[:, 0], pts[:, 1], s=24, color=color_of[name], linewidths=0, zorder=3)
ax.set_xlim(-0.02, 0.03)
ax.set_ylim(-0.04, 0.03)
ax.set_xticks(phi1_ticks_top, phi1_labels_top)
ax.set_yticks(phi2_ticks_top, phi2_labels_top)
ax.tick_params(direction='in', length=5, width=0.8, color='#333333', labelsize=10.3, labelcolor=TXT, pad=6)
ax.grid(True, color=GRID, lw=0.9)
ax.set_axisbelow(True)
for side in ('top', 'right'):
    ax.spines[side].set_color(GRID)
for side in ('left', 'bottom'):
    ax.spines[side].set_color('#333333')
    ax.spines[side].set_linewidth(0.8)

# ---------- Colour key ----------
cax = fig.add_axes(rect_px(1592, 817.3, 1614.7, 1282.7))
cax.pcolormesh([0, 1], np.arange(len(categories) + 1), np.arange(len(categories))[:, None],
               cmap=ListedColormap(colors), vmin=-.5, vmax=len(categories) - .5)
cax.set_ylim(len(categories), 0)
cax.set_xticks([])
cax.yaxis.tick_right()
cax.set_yticks(np.arange(len(categories)) + .52, categories)
cax.tick_params(axis='y', length=0, pad=10, labelsize=10.9, labelcolor=TXT)
for s in cax.spines.values():
    s.set_color('#555555')
    s.set_linewidth(0.8)

# ---------- 3D view ----------
ax3 = fig.add_axes(rect_px(100, 700, 800, 1400), projection='3d', proj_type='ortho', computed_zorder=False)
ax3.patch.set_alpha(0)
ax3.view_init(elev=22.1, azim=-14)
ax3.set_box_aspect((496, 489, 324))
X0, X1, Y0, Y1, Z0, Z1 = -0.02, 0.03, -0.04, 0.03, -0.03, 0.04
ax3.set_xlim(X0, X1)
ax3.set_ylim(Y0, Y1)
ax3.set_zlim(Z0, Z1)
ax3.set_xticks(phi1_ticks_3d)
ax3.set_yticks(phi2_ticks_3d)
ax3.set_zticks(phi3_ticks_3d)
ax3.tick_params(axis='both', labelbottom=False, labelleft=False, labelright=False, labeltop=False)
for axis in (ax3.xaxis, ax3.yaxis, ax3.zaxis):
    axis.set_tick_params(label1On=False, label2On=False)
    axis.pane.set_facecolor((1, 1, 1, 0))
    axis.pane.set_edgecolor(GRID)
    axis.line.set_color(AXC)
    axis.line.set_linewidth(0.8)
    axis._axinfo['grid'].update(color=GRID, linewidth=0.9)
    axis._axinfo['tick'].update(inward_factor=0.0, outward_factor=0.0)
ax3.zaxis.line.set_visible(False)

for name, pts, p1 in layers_3d:
    a = np.array(pts) * UNIT
    ax3.scatter(np.full(len(a), p1 * UNIT), a[:, 0], a[:, 1], s=30, color=color_of[name],
                linewidths=0, depthshade=False, clip_on=False)

# axis decorations in MATLAB's arrangement
ax3.plot([X0, X0], [Y0, Y0], [Z0, Z1], color=AXC, lw=0.8)
for v in phi3_ticks_3d:
    ax3.plot([X0, X0 - 0.0035], [Y0, Y0], [v, v], color=AXC, lw=0.8)
for v in phi1_ticks_3d:
    ax3.plot([v, v], [Y0, Y0 - 0.0016], [Z0, Z0], color=AXC, lw=0.8)
for v in phi2_ticks_3d:
    ax3.plot([X1, X1 + 0.0027], [v, v], [Z0, Z0], color=AXC, lw=0.8)


def corner_px(x, y, z):
    px, py, _ = proj3d.proj_transform(x, y, z, ax3.get_proj())
    return ax3.transData.transform((px, py))


target_a = np.array([198.6, H - 1117.7])
target_c = np.array([791.0, H - 1254.8])
side, cx, cy = 700.0, 450.0, H - 1050.0
for _ in range(4):
    ax3.set_position([(cx - side / 2) / W, (cy - side / 2) / H, side / W, side / H])
    fig.canvas.draw()
    a_now = corner_px(X0, Y0, Z0)
    c_now = corner_px(X1, Y1, Z0)
    side *= np.hypot(*(target_c - target_a)) / np.hypot(*(c_now - a_now))
    ax3.set_position([(cx - side / 2) / W, (cy - side / 2) / H, side / W, side / H])
    fig.canvas.draw()
    a_now = corner_px(X0, Y0, Z0)
    cx += target_a[0] - a_now[0]
    cy += target_a[1] - a_now[1]
ax3.set_position([(cx - side / 2) / W, (cy - side / 2) / H, side / W, side / H])
fig.canvas.draw()

# tick labels placed from the projected tick positions
for v, s in zip(phi3_ticks_3d, phi3_labels_3d):
    p = corner_px(X0, Y0, v)
    bg.text(p[0] - 10.6, H - p[1] - 14.4, s, ha='right', va='center', fontsize=9.8, color=TXT)
for v, s in zip(phi1_ticks_3d, phi1_labels_3d):
    p = corner_px(v, Y0, Z0)
    bg.text(p[0] - 19, H - p[1] + 12, s, ha='right', va='center', fontsize=9.8, color=TXT)
for v, s in zip(phi2_ticks_3d, phi2_labels_3d):
    p = corner_px(X1, v, Z0)
    bg.text(p[0] + 8, H - p[1] + 26, s, ha='left', va='center', fontsize=9.8, color=TXT)

fig.savefig('out.png', dpi=100, facecolor='white')
